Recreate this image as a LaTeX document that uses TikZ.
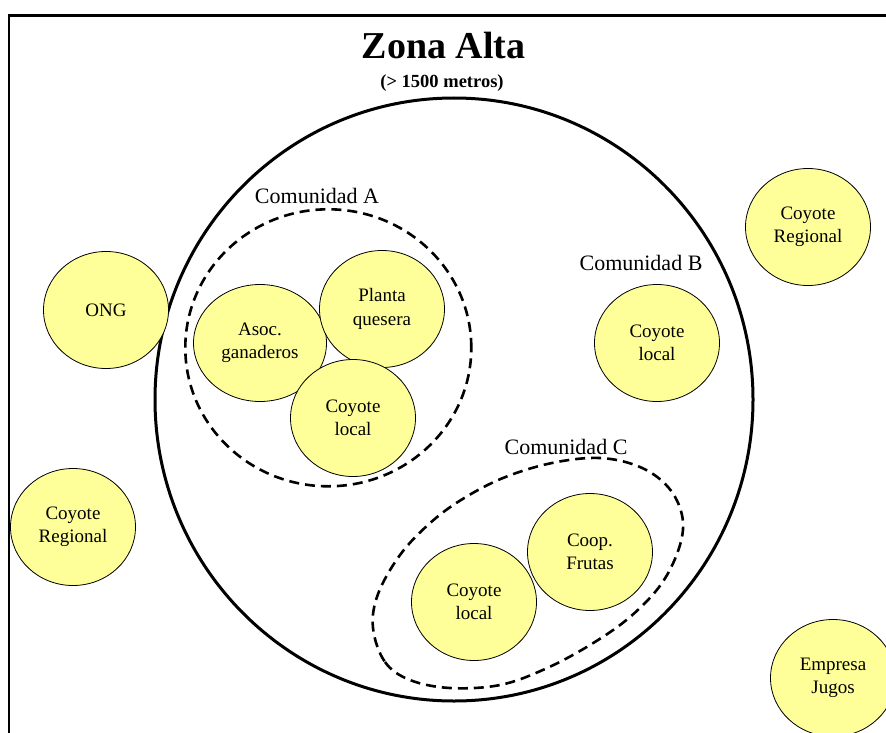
\documentclass[tikz,border=0pt]{standalone}
\usepackage{fontspec}
\setmainfont{Liberation Serif}
\usetikzlibrary{shapes.geometric}
\definecolor{cyel}{HTML}{FFFF99}
\begin{document}
\begin{tikzpicture}[x=1pt,y=-1pt,
  actor/.style={ellipse, draw=black, line width=0.8pt, fill=cyel, inner sep=0pt,
    minimum width=125pt, minimum height=117pt, align=center,
    font=\fontsize{19}{23.5}\selectfont},
  grp/.style={draw=black, line width=2.6pt, dash pattern=on 10pt off 6pt},
  lbl/.style={font=\fontsize{22}{26}\selectfont, inner sep=0pt},
  zone/.style={ellipse, draw=black, line width=3pt, inner sep=0pt}]
\useasboundingbox (0,0) rectangle (886,733);
% frame
\draw[line width=2pt] (8.5,740) -- (8.5,15.5);
\draw[line width=2.6pt] (7.5,15.5) -- (890,15.5);
% title
\node[font=\bfseries\fontsize{38}{40}\selectfont, inner sep=0pt] (title) at (443.5,46) {Zona Alta};
\node[font=\bfseries\fontsize{18.5}{20}\selectfont, inner sep=0pt] (sub) at (442,83) {(> 1500 metros)};
% main zone
\node[zone, minimum width=598pt, minimum height=603pt] (zona) at (454,399.5) {};
% outside actors
\node[actor] (ong) at (106,310) {ONG};
\node[actor] (crl) at (73,527) {Coyote\\Regional};
\node[actor] (crr) at (808,227) {Coyote\\Regional};
\node[actor] (emp) at (833,678) {Empresa\\Jugos};
% Comunidad A
\node[ellipse, grp, inner sep=0pt, minimum width=286pt, minimum height=277pt] (ga) at (328.3,347.8) {};
\node[lbl] (la) at (317,196) {Comunidad A};
\node[actor, minimum width=133pt] (asoc) at (260,343) {Asoc.\\ganaderos};
\node[actor] (planta) at (382,309) {Planta\\quesera};
\node[actor] (cla) at (353,418) {Coyote\\local};
% Comunidad B
\node[lbl] (lb) at (641,263) {Comunidad B};
\node[actor] (clb) at (657,343) {Coyote\\local};
% Comunidad C
\draw[grp] plot[smooth cycle, tension=0.6] coordinates {
  (373,628) (385,662) (410,680) (450,688) (500,685) (545,669) (590,645)
  (630,617) (662,583) (680,545) (682,515) (668,487) (640,467) (600,458)
  (552,463) (503,478) (461,500) (429,524) (400,555) (378,594)};
\node[lbl] (lc) at (566,447) {Comunidad C};
\node[actor] (clc) at (474,602) {Coyote\\local};
\node[actor] (coop) at (590,552) {Coop.\\Frutas};
\end{tikzpicture}
\end{document}
